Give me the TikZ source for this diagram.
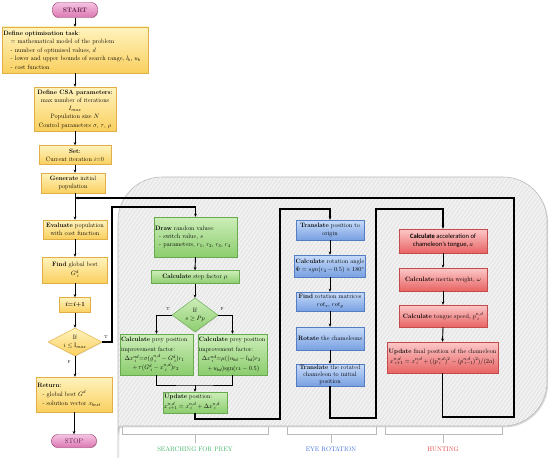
\documentclass[tikz,border=0pt]{standalone}
\usepackage{amsmath,amssymb}
\usepackage{fontspec}
\newfontfamily\calib{Carlito}
\usetikzlibrary{arrows.meta,shapes.geometric,patterns.meta,shadows}
\definecolor{ytop}{RGB}{255,243,190}
\definecolor{ybot}{RGB}{250,208,95}
\definecolor{ybrd}{RGB}{225,175,70}
\definecolor{gtop}{RGB}{205,238,185}
\definecolor{gbot}{RGB}{140,205,110}
\definecolor{gbrd}{RGB}{105,170,80}
\definecolor{btop}{RGB}{200,220,250}
\definecolor{bbot}{RGB}{120,160,225}
\definecolor{bbrd}{RGB}{85,125,195}
\definecolor{rtop}{RGB}{252,200,200}
\definecolor{rbot}{RGB}{232,100,100}
\definecolor{rbrd}{RGB}{195,75,75}
\definecolor{ptop}{RGB}{245,195,225}
\definecolor{pbot}{RGB}{220,120,180}
\definecolor{pbrd}{RGB}{150,60,110}
\definecolor{ptext}{RGB}{90,30,70}
\definecolor{bgfill}{RGB}{232,232,232}
\definecolor{bgline}{RGB}{185,185,185}
\definecolor{labg}{RGB}{50,170,90}
\definecolor{labb}{RGB}{50,100,210}
\definecolor{labr}{RGB}{225,50,50}
\begin{document}
\begin{tikzpicture}[x=1.75pt,y=-1.75pt,
 base/.style={draw, line width=0.8pt, inner sep=1.75pt, font=\fontsize{11}{14}\selectfont, align=center,
   drop shadow={shadow xshift=1.2pt,shadow yshift=-1.2pt,opacity=0.25}},
 ybx/.style={base, draw=ybrd, top color=ytop, bottom color=ybot},
 gbx/.style={base, draw=gbrd, top color=gtop, bottom color=gbot},
 bbx/.style={base, draw=bbrd, top color=btop, bottom color=bbot},
 rbx/.style={base, draw=rbrd, top color=rtop, bottom color=rbot},
 pill/.style={base, draw=pbrd, top color=ptop, bottom color=pbot, rounded corners=11pt, text=ptext},
 ydia/.style={ybx, diamond, inner sep=0pt},
 gdia/.style={gbx, diamond, inner sep=0pt},
 fl/.style={line width=1.6pt},
 flow/.style={fl, -{Stealth[length=5.6pt,width=4.9pt]}},
 fbk/.style={line width=1.9pt},
 fbka/.style={fbk, -{Stealth[length=5.6pt,width=4.9pt]}},
 tf/.style={font=\fontsize{7.5}{8}\selectfont, inner sep=0pt},
 sec/.style={font=\fontsize{11.5}{13}\selectfont, inner sep=0pt},
 brk/.style={draw=gray!55, line width=1pt},
]
\useasboundingbox (0,0) rectangle (550,457);

% grey background panel
\path[drop shadow={shadow xshift=2pt,shadow yshift=-2.6pt,opacity=0.3},
      preaction={fill=bgfill},
      pattern={Lines[angle=55,distance=5.5pt,line width=0.9pt]}, pattern color=white,
      draw=bgline, line width=1pt]
  (121,426) [rounded corners=77pt] -- (547,426) -- (547,177) -- (118,177) -- (118,423)
  [sharp corners] .. controls (118,426) .. (121,426) -- cycle;

% brackets
\draw[brk] (122,427) -- (122,434) -- (268,434) -- (268,427);
\draw[brk] (195,434) -- (195,443);
\draw[brk] (287,427) -- (287,434) -- (376,434) -- (376,427);
\draw[brk] (331,434) -- (331,443);
\draw[brk] (385,427) -- (385,434) -- (502,434) -- (502,427);
\draw[brk] (443,434) -- (443,443);

\node[sec, text=labg] (ls) at (195,449) {SEARCHING FOR PREY};
\node[sec, text=labb] (le) at (331,449) {EYE ROTATION};
\node[sec, text=labr] (lh) at (443,449) {HUNTING};

% main column
\node[pill, minimum width=78.75pt, minimum height=26.25pt, font=\fontsize{11.5}{13}\selectfont\bfseries] (start) at (75,10) {START};
\node[ybx, minimum width=255.5pt, minimum height=80.5pt, text width=251pt, align=left, font=\fontsize{11}{14.8}\selectfont] (task) at (75,50)
 {\textbf{Define optimisation task}:\\
  \hspace*{13pt}= mathematical model of the problem\\
  \hspace*{13pt}- number of optimised values, $d$\\
  \hspace*{13pt}- lower and upper bounds of search range, $l_b$, $u_b$\\
  \hspace*{13pt}- cost function};
\node[ybx, minimum width=143.5pt, minimum height=77pt, font=\fontsize{11}{14.4}\selectfont] (csa) at (75,109)
 {\textbf{Define CSA parameters:}\\ max number of iterations\\ $I_{max}$\\ Population size $N$\\ Control parameters $\sigma$, $\tau$, $\rho$};
\node[ybx, minimum width=126pt, minimum height=33.25pt] (set) at (75,155) {\textbf{Set:}\\ Current iteration $i$=0};
\node[ybx, minimum width=112pt, minimum height=35pt] (gen) at (73,183) {\textbf{Generate} initial\\ population};
\node[ybx, minimum width=112pt, minimum height=33.25pt] (eval) at (75,229.5) {\textbf{Evaluate} population\\ with cost function};
\node[ybx, minimum width=113.75pt, minimum height=45.5pt, font=\fontsize{11}{16}\selectfont] (find) at (75,270) {\textbf{Find} global best\\ $G^d_{\;i}$};
\node[ybx, minimum width=54.25pt, minimum height=26.25pt] (inc) at (75,305) {\textbf{\textit{i}=\textit{i}+1}};
\node[ydia, minimum width=94.5pt, minimum height=49pt, aspect=1.9] (cond) at (75,342) {If\\ $i\le \mathrm{I}_{max}$};
\node[ybx, minimum width=133pt, minimum height=61.25pt, text width=128pt, align=left, font=\fontsize{11}{16}\selectfont] (ret) at (74,394.5)
 {\textbf{Return:}\\ \hspace*{9pt}- global best $G^d$\\ \hspace*{9pt}- solution vector $x_{best}$};
\node[pill, minimum width=78.75pt, minimum height=22.75pt, font=\fontsize{12}{13}\selectfont] (stop) at (74,441) {STOP};

% searching for prey
\node[gbx, minimum width=145.25pt, minimum height=70pt, text width=141pt, align=left] (drw) at (195.5,237)
 {\textbf{Draw} random values:\\ \hspace*{7pt}- switch value, $s$\\ \hspace*{7pt}- parameters, $r_1$, $r_2$, $r_3$, $r_4$};
\node[gbx, minimum width=154pt, minimum height=22.75pt] (stp) at (195,277) {\textbf{Calculate} step factor $\mu$};
\node[gdia, minimum width=80.5pt, minimum height=59.5pt, aspect=1.35] (sdia) at (195,315) {If\\ $s\ge Pp$};
\node[gbx, minimum width=127.75pt, minimum height=71.75pt, text width=124pt, align=left, font=\fontsize{11}{16.5}\selectfont] (lcal) at (156.5,354.5)
 {\textbf{Calculate} prey position\\ improvement factor:\\
  \hspace*{6pt}$\Delta x^{nd}_{\;i}{=}\sigma(g^{n,d}_{\;i}-G^d_{\;i})r_1$\\
  \hspace*{20pt}$+\,\tau(G^d_{\;i}-x^{n,d}_{\;i})r_2$};
\node[gbx, minimum width=120.75pt, minimum height=71.75pt, text width=117.5pt, align=left, font=\fontsize{11}{16.5}\selectfont] (rcal) at (232.5,354.5)
 {\textbf{Calculate} prey position\\ improvement factor:\\
  \hspace*{5pt}$\Delta x^{nd}_{\;i}{=}\mu((u_{bd}-l_{bd})r_3$\\
  \hspace*{15pt}$+\,u_{bd})\mathrm{sgn}(r_4-0.5)$};
\node[gbx, minimum width=112pt, minimum height=36.75pt, text width=108pt, align=left, font=\fontsize{11}{16}\selectfont] (upd) at (195,402.5)
 {\textbf{Update} position:\\ $x^{n,d}_{\;i+1}=x^{n,d}_{\;i}+\Delta x^{n,d}_{\;i}$};

% eye rotation
\node[bbx, minimum width=119pt, minimum height=35pt] (t1) at (330,230) {\textbf{Translate} position to\\ origin};
\node[bbx, minimum width=119pt, minimum height=38.5pt] (t2) at (330,266) {\textbf{Calculate} rotation angle\\ $\Phi=sgn(r_4-0.5)\times 180^\circ$};
\node[bbx, minimum width=119pt, minimum height=33.25pt] (t3) at (330,301.5) {\textbf{Find} rotation matrices\\ $rot_x$, $rot_y$};
\node[bbx, minimum width=119pt, minimum height=40.25pt] (t4) at (330,338.5) {\textbf{Rotate} the chameleons};
\node[bbx, minimum width=119pt, minimum height=38.5pt, font=\fontsize{11}{12.6}\selectfont] (t5) at (330,375) {\textbf{Translate} the rotated\\ chameleon to initial\\ position};

% hunting
\node[rbx, minimum width=154pt, minimum height=42pt, font=\calib\fontsize{11.5}{14}\selectfont] (h1) at (443,241) {\textbf{Calculate} acceleration of\\ chameleon’s tongue, $a$};
\node[rbx, minimum width=154pt, minimum height=40.25pt] (h2) at (443,279.5) {\textbf{Calculate} inertia weight, $\omega$};
\node[rbx, minimum width=154pt, minimum height=38.5pt] (h3) at (443,316) {\textbf{Calculate} tongue speed, $p^{n,d}_{\;i}$};
\node[rbx, minimum width=194.25pt, minimum height=54.25pt, font=\fontsize{11}{16}\selectfont] (h4) at (442.5,357.5)
 {\textbf{Update} final position of the chameleon\\ $x^{n,d}_{\;i+1}=x^{n,d}_{\;i}+((p^{n,d}_{\;i})^2-(p^{n,d}_{\;i-1})^2)/(2a)$};

% bend coordinates
\coordinate (tt) at (112,207);
\coordinate (mrg) at (195,385);
\coordinate (sbot) at (280,419);
\coordinate (stopc) at (280,209);
\coordinate (ebot) at (376,418);
\coordinate (etop) at (376,209);
\coordinate (hbot) at (514,417);
\coordinate (htop) at (514,198);
\coordinate (feed) at (75,198);

% main flow
\draw[flow] (start.south) -- (task.north);
\draw[flow] (task.south) -- (csa.north);
\draw[flow] (csa.south) -- (set.north);
\draw[flow] (set.south) -- (set.south |- gen.north);
\draw[fl] (set.south |- gen.south) -- (feed);
\draw[flow] (feed) -- (eval.north);
\draw[flow] (eval.south) -- (find.north);
\draw[flow] (find.south) -- (inc.north);
\draw[flow] (inc.south) -- (cond.north);
\draw[flow] (cond.south) -- (cond.south |- ret.north);
\draw[flow] (ret.south) -- (stop.north);
\node[tf] (tl) at (106,337) {T};
\node[tf] (fl1) at (69,362) {F};

% loops
\draw[fbka] (cond.east) -| (tt) -| (drw.north);
\draw[flow] (drw.south) -- (stp.north);
\draw[flow] (stp.south) -- (sdia.north);
\draw[flow] (sdia.west) -| (lcal.north);
\draw[flow] (sdia.east) -| (rcal.north);
\node[tf] (tl2) at (168,309) {T};
\node[tf] (fl2) at (222,309) {F};
\draw[fl] (lcal.south) |- (mrg) -| (rcal.south);
\draw[flow] (mrg) -- (upd.north);
\draw[fbka] (upd.south) |- (sbot) -- (stopc) -| (t1.north);

\draw[flow] (t1.south) -- (t2.north);
\draw[flow] (t2.south) -- (t3.north);
\draw[flow] (t3.south) -- (t4.north);
\draw[flow] (t4.south) -- (t5.north);
\draw[fbka] (t5.south) |- (ebot) -- (etop) -| (h1.north);

\draw[flow] (h1.south) -- (h2.north);
\draw[flow] (h2.south) -- (h3.north);
\draw[flow] (h3.south) -- (h4.north);
\draw[fbka] (h4.south) |- (hbot) -- (htop) -- (feed);
\end{tikzpicture}
\end{document}
